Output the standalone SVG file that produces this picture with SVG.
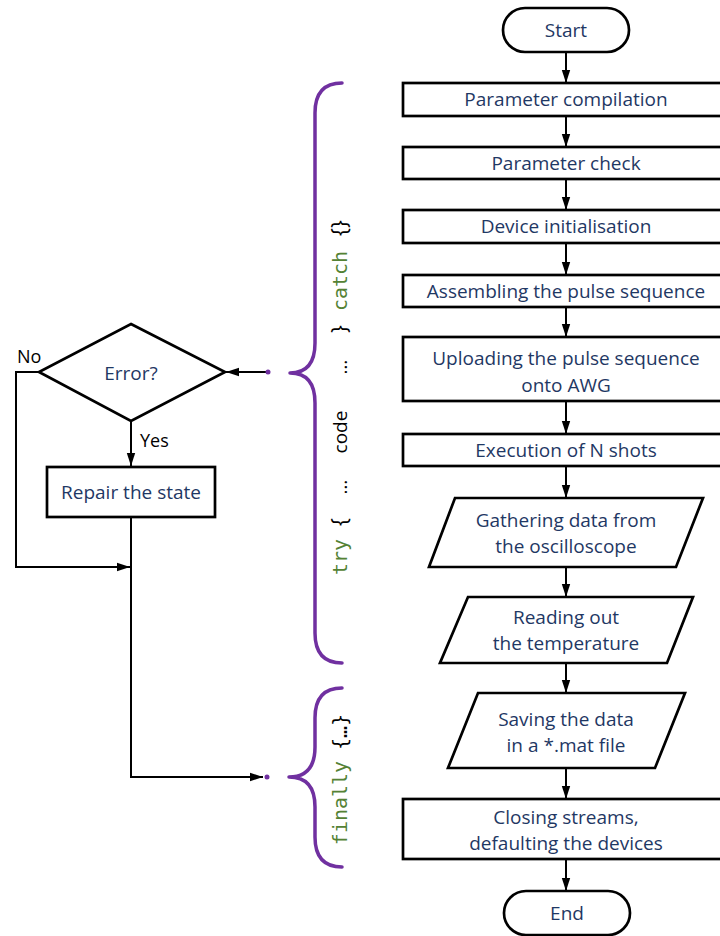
<svg xmlns="http://www.w3.org/2000/svg" width="720" height="936" viewBox="0 0 720 936">
  <defs>
    <marker id="arrow" markerUnits="userSpaceOnUse" markerWidth="13" markerHeight="10" refX="13" refY="5" orient="auto">
      <path d="M0,0.8 L13,5 L0,9.2 z" fill="#000"/>
    </marker>
    <style>
      .box { fill: #fff; stroke: #000; stroke-width: 2.7; }
      .lbl { font-family: "Open Sans", "Noto Sans", sans-serif; font-size: 19px; fill: #1F3864; text-anchor: middle; }
      .plain { font-family: "Open Sans", "Noto Sans", sans-serif; font-size: 18px; fill: #000; }
      .edge { fill: none; stroke: #000; stroke-width: 2; }
      .brace { fill: none; stroke: #7030A0; stroke-width: 3.5; stroke-linecap: round; stroke-linejoin: round; }
      .dot { fill: #7030A0; }
      .kw { font-family: "DejaVu Sans Mono", "Liberation Mono", monospace; font-size: 20px; fill: #548235; text-anchor: middle; }
      .mono { font-family: "DejaVu Sans Mono", "Liberation Mono", monospace; font-size: 20px; fill: #000; text-anchor: middle; }
      .code { font-family: "Open Sans", "Noto Sans", sans-serif; font-size: 19px; fill: #000; text-anchor: middle; }
      .brk { font-family: "Open Sans", "Noto Sans", sans-serif; font-size: 21px; fill: #000; text-anchor: middle; }
    </style>
  </defs>

  <!-- main flow -->
  <g id="start">
    <rect class="box" x="503" y="8" width="126" height="44" rx="22"/>
    <text class="lbl" x="566" y="37">Start</text>
  </g>
  <g id="param-compilation">
    <rect class="box" x="403" y="83" width="326" height="33"/>
    <text class="lbl" x="566" y="106">Parameter compilation</text>
  </g>
  <g id="param-check">
    <rect class="box" x="403" y="147" width="326" height="32"/>
    <text class="lbl" x="566" y="170">Parameter check</text>
  </g>
  <g id="device-init">
    <rect class="box" x="403" y="210" width="326" height="33"/>
    <text class="lbl" x="566" y="233">Device initialisation</text>
  </g>
  <g id="assembling">
    <rect class="box" x="403" y="275" width="326" height="32"/>
    <text class="lbl" x="566" y="298">Assembling the pulse sequence</text>
  </g>
  <g id="uploading">
    <rect class="box" x="403" y="337" width="326" height="64"/>
    <text class="lbl" x="566" y="365">Uploading the pulse sequence</text>
    <text class="lbl" x="566" y="392">onto AWG</text>
  </g>
  <g id="execution">
    <rect class="box" x="403" y="434" width="326" height="32"/>
    <text class="lbl" x="566" y="457">Execution of N shots</text>
  </g>
  <g id="gathering">
    <polygon class="box" points="455,498 703,498 676,567 429,567"/>
    <text class="lbl" x="566" y="527">Gathering data from</text>
    <text class="lbl" x="566" y="553">the oscilloscope</text>
  </g>
  <g id="temperature">
    <polygon class="box" points="468,597 693,597 667,663 440,663"/>
    <text class="lbl" x="566" y="624">Reading out</text>
    <text class="lbl" x="566" y="650">the temperature</text>
  </g>
  <g id="saving">
    <polygon class="box" points="478,693 685,693 655,768 448,768"/>
    <text class="lbl" x="566" y="726">Saving the data</text>
    <text class="lbl" x="566" y="752">in a *.mat file</text>
  </g>
  <g id="closing">
    <rect class="box" x="403" y="799" width="326" height="60"/>
    <text class="lbl" x="566" y="824">Closing streams,</text>
    <text class="lbl" x="566" y="850">defaulting the devices</text>
  </g>
  <g id="end">
    <rect class="box" x="504" y="891" width="126" height="44" rx="22"/>
    <text class="lbl" x="567" y="920">End</text>
  </g>

  <!-- error handling branch -->
  <g id="error">
    <polygon class="box" points="131,324 225,372 131,421 39,372"/>
    <text class="lbl" x="131" y="380">Error?</text>
  </g>
  <g id="repair">
    <rect class="box" x="47" y="467" width="168" height="50"/>
    <text class="lbl" x="131" y="499">Repair the state</text>
  </g>

  <!-- try / catch / finally braces -->
  <g id="try-brace">
    <path class="brace" d="M342,83 Q315,83 315,113 L315,343 Q315,373 290,373 Q315,373 315,403 L315,633 Q315,663 342,663"/>
    <g transform="translate(347,0) rotate(-90)">
      <text class="kw" x="-557" y="0">try</text>
      <text class="brk" x="-522" y="0">{</text>
      <text class="code" x="-487" y="0">…</text>
      <text class="code" x="-432" y="0">code</text>
      <text class="code" x="-367" y="0">…</text>
      <text class="brk" x="-329" y="0">}</text>
      <text class="kw" x="-281" y="0">catch</text>
      <text class="brk" x="-228" y="0">{}</text>
    </g>
  </g>
  <g id="finally-brace">
    <path class="brace" d="M342,688 Q315,688 315,718 L315,747 Q315,777 289,777 Q315,777 315,807 L315,837 Q315,867 342,867"/>
    <g transform="translate(347,0) rotate(-90)">
      <text class="kw" x="-803" y="0">finally</text>
      <text class="mono" x="-732" y="0">{…}</text>
    </g>
  </g>

  <!-- connectors -->
  <g id="connectors">
    <line class="edge" x1="566" y1="52" x2="566" y2="83" marker-end="url(#arrow)"/>
    <line class="edge" x1="566" y1="116" x2="566" y2="147" marker-end="url(#arrow)"/>
    <line class="edge" x1="566" y1="179" x2="566" y2="210" marker-end="url(#arrow)"/>
    <line class="edge" x1="566" y1="243" x2="566" y2="275" marker-end="url(#arrow)"/>
    <line class="edge" x1="566" y1="307" x2="566" y2="337" marker-end="url(#arrow)"/>
    <line class="edge" x1="566" y1="401" x2="566" y2="434" marker-end="url(#arrow)"/>
    <line class="edge" x1="566" y1="466" x2="566" y2="498" marker-end="url(#arrow)"/>
    <line class="edge" x1="566" y1="567" x2="566" y2="597" marker-end="url(#arrow)"/>
    <line class="edge" x1="566" y1="663" x2="566" y2="693" marker-end="url(#arrow)"/>
    <line class="edge" x1="566" y1="768" x2="566" y2="799" marker-end="url(#arrow)"/>
    <line class="edge" x1="566" y1="859" x2="566" y2="891" marker-end="url(#arrow)"/>

    <line class="edge" x1="268" y1="372" x2="226" y2="372" marker-end="url(#arrow)"/>
    <line class="edge" x1="131" y1="421" x2="131" y2="466" marker-end="url(#arrow)"/>
    <polyline class="edge" points="39,372 16,372 16,567 130,567" marker-end="url(#arrow)"/>
    <polyline class="edge" points="131,517 131,777 263,777" marker-end="url(#arrow)"/>
    <circle class="dot" cx="268" cy="372" r="2.5"/>
    <circle class="dot" cx="267" cy="777" r="2.5"/>

    <text class="plain" x="17" y="363">No</text>
    <text class="plain" x="140" y="447">Yes</text>
  </g>
</svg>
